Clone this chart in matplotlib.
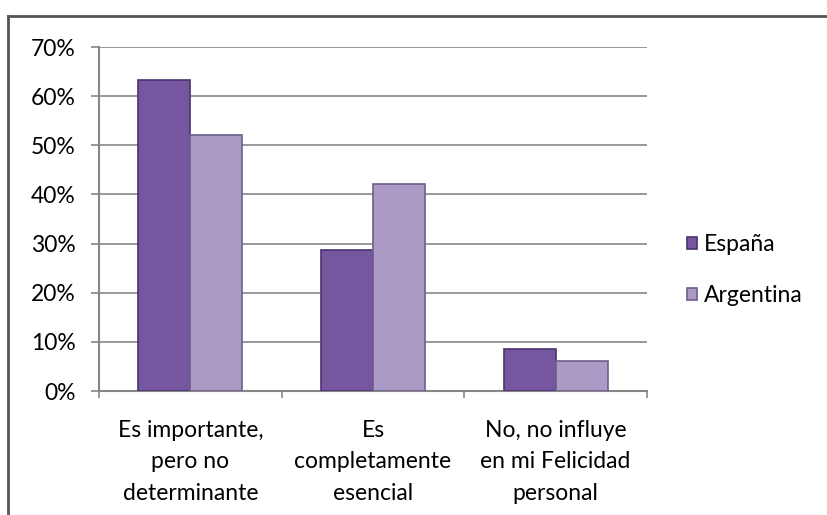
import matplotlib.pyplot as plt
from matplotlib.lines import Line2D
import numpy as np

# Datos
categorias = ["Es importante,\npero no\ndeterminante",
              "Es\ncompletamente\nesencial",
              "No, no influye\nen mi Felicidad\npersonal"]
espana = [63.3, 28.7, 8.5]
argentina = [52.1, 42.1, 6.1]
series = ["España", "Argentina"]

plt.rcParams["font.family"] = ["Lato", "DejaVu Sans"]

fig = plt.figure(figsize=(8.28, 5.15), dpi=100)
ax = fig.add_axes([99 / 828, 1 - 391 / 515, 548 / 828, 344 / 515])

x = np.arange(len(categorias))
w = 0.284
ax.bar(x - w / 2, espana, w, color="#76579f", edgecolor="#4a3370",
       linewidth=1.2, label=series[0], zorder=3)
ax.bar(x + w / 2, argentina, w, color="#ab9ac6", edgecolor="#6e5f8c",
       linewidth=1.2, label=series[1], zorder=3)

ax.set_xlim(-0.5, 2.5)
ax.set_ylim(0, 70)
ax.set_yticks(np.arange(0, 71, 10))
ax.set_yticklabels([f"{v}%" for v in range(0, 71, 10)])
ax.yaxis.grid(True, color="#878787", linewidth=1.2, zorder=0)
ax.set_axisbelow(True)

# ticks del eje x en los limites de categoria, etiquetas centradas
ax.set_xticks([-0.5, 0.5, 1.5, 2.5])
ax.set_xticklabels([])
ax.set_xticks(x, minor=True)
ax.set_xticklabels(categorias, minor=True, fontsize=16.5, linespacing=1.6)
ax.tick_params(axis="x", which="major", length=5, color="#878787", width=1.2)
ax.tick_params(axis="x", which="minor", length=0, pad=21)
ax.tick_params(axis="y", length=6, color="#878787", width=1.2,
               labelsize=16.5, pad=11)

for s in ["top", "right"]:
    ax.spines[s].set_visible(False)
for s in ["left", "bottom"]:
    ax.spines[s].set_color("#878787")
    ax.spines[s].set_linewidth(1.5)

fig.legend(loc="center left", bbox_to_anchor=(687 / 828, 1 - 270 / 515),
           frameon=False, fontsize=16.5, handlelength=0.45, handleheight=0.45,
           handletextpad=0.3, labelspacing=1.3, borderpad=0, borderaxespad=0)

# marco exterior
fig.add_artist(Line2D([8 / 828, 8 / 828], [0, 1 - 16 / 515],
                      transform=fig.transFigure, color="#555555", linewidth=2))
fig.add_artist(Line2D([8 / 828, 1], [1 - 16 / 515, 1 - 16 / 515],
                      transform=fig.transFigure, color="#555555", linewidth=2))

fig.savefig("out.png", dpi=100)
